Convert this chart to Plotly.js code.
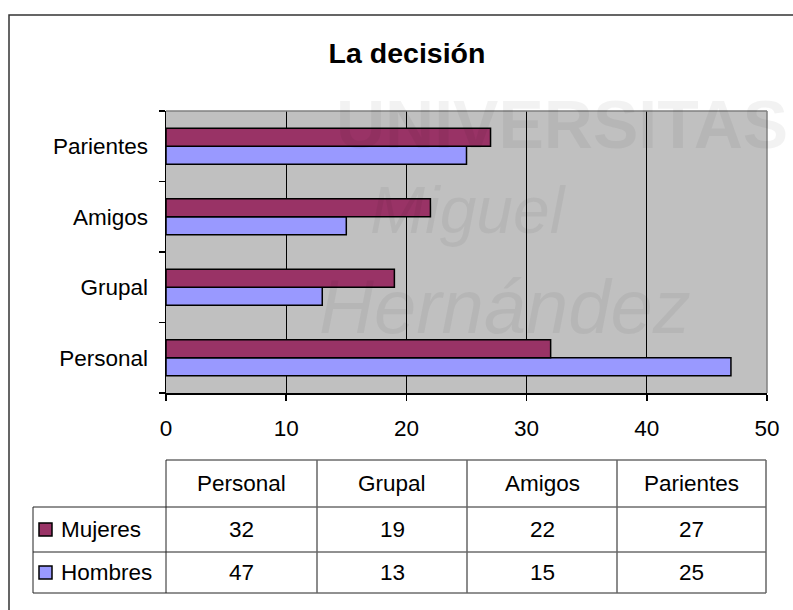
<!DOCTYPE html>
<html>
<head>
<meta charset="utf-8">
<script src="https://cdn.plot.ly/plotly-3.0.1.min.js"></script>
<style>html,body{margin:0;padding:0;background:#fff;}#chart{width:793px;height:610px;}</style>
</head>
<body>
<div id="chart"></div>
<script>
// ---- Data ----
const categories = ["Personal", "Grupal", "Amigos", "Parientes"];
const mujeres = [32, 19, 22, 27];
const hombres = [47, 13, 15, 25];
const seriesNames = ["Mujeres", "Hombres"];
const xTicks = [0, 10, 20, 30, 40, 50];
const title = "La decisión";

// ---- Styles / geometry ----
const W = 793, H = 610;
const PL = 166, PR = 767, PT = 111, PB = 393;
const colMujeres = "#993366", colHombres = "#9999FF";
const FONT = "Liberation Sans, Arial, sans-serif";
const fx = px => (px - PL) / (PR - PL);
const fy = py => (PB - py) / (PB - PT);

const traces = [
  { type: "bar", orientation: "h", name: seriesNames[1], y: categories, x: hombres,
    marker: { color: colHombres, line: { color: "#000", width: 1.5 } }, hoverinfo: "x+y" },
  { type: "bar", orientation: "h", name: seriesNames[0], y: categories, x: mujeres,
    marker: { color: colMujeres, line: { color: "#000", width: 1.5 } }, hoverinfo: "x+y" }
];

const shapes = [];
const annotations = [];

// outer frame
shapes.push({ type: "rect", xref: "paper", yref: "paper", x0: fx(9), x1: fx(805), y0: fy(15), y1: fy(625),
  line: { color: "#333", width: 1.5 }, fillcolor: "rgba(0,0,0,0)", layer: "below" });
// plot area top/right border
shapes.push({ type: "line", xref: "paper", yref: "paper", x0: 0, x1: 1, y0: 1, y1: 1, line: { color: "#808080", width: 1.5 } });
shapes.push({ type: "line", xref: "paper", yref: "paper", x0: 1, x1: 1, y0: 0, y1: 1, line: { color: "#808080", width: 1.5 } });

// watermark (faint)
const wm = [
  { t: "UNIVERSITAS", x: 562, y: 124, s: 68, b: true, i: false },
  { t: "Miguel", x: 468, y: 210, s: 66, b: false, i: true },
  { t: "Hernández", x: 505, y: 306, s: 76, b: false, i: true }
];
wm.forEach(w => annotations.push({ xref: "paper", yref: "paper", x: fx(w.x), y: fy(w.y), xanchor: "center", yanchor: "middle",
  text: w.b ? "<b>" + w.t + "</b>" : (w.i ? "<i>" + w.t + "</i>" : w.t), showarrow: false,
  font: { family: FONT, size: w.s, color: "rgba(0,0,0,0.05)" } }));

// ---- data table ----
const colEdges = [166, 317, 467, 617, 766];
const rowEdges = [460, 507, 552, 593];
const tableLeft = 33;
const lineCol = "#222";
shapes.push({ type: "line", xref: "paper", yref: "paper", x0: fx(colEdges[0]), x1: fx(colEdges[4]), y0: fy(rowEdges[0]), y1: fy(rowEdges[0]), line: { color: lineCol, width: 1 } });
for (let r = 1; r < rowEdges.length; r++) {
  shapes.push({ type: "line", xref: "paper", yref: "paper", x0: fx(tableLeft), x1: fx(colEdges[4]), y0: fy(rowEdges[r]), y1: fy(rowEdges[r]), line: { color: lineCol, width: 1 } });
}
shapes.push({ type: "line", xref: "paper", yref: "paper", x0: fx(tableLeft), x1: fx(tableLeft), y0: fy(rowEdges[1]), y1: fy(rowEdges[3]), line: { color: lineCol, width: 1 } });
colEdges.forEach((c, i) => shapes.push({ type: "line", xref: "paper", yref: "paper", x0: fx(c), x1: fx(c), y0: fy(rowEdges[0]), y1: fy(rowEdges[3]),
  line: { color: i === 0 ? lineCol : "#666", width: i === 0 ? 1 : 1.5 } }));

const tFont = { family: FONT, size: 22.5, color: "#000" };
categories.forEach((c, i) => {
  const cx = (colEdges[i] + colEdges[i + 1]) / 2;
  annotations.push({ xref: "paper", yref: "paper", x: fx(cx), y: fy((rowEdges[0] + rowEdges[1]) / 2), text: c, showarrow: false, xanchor: "center", yanchor: "middle", font: tFont });
  annotations.push({ xref: "paper", yref: "paper", x: fx(cx), y: fy((rowEdges[1] + rowEdges[2]) / 2), text: String(mujeres[i]), showarrow: false, xanchor: "center", yanchor: "middle", font: tFont });
  annotations.push({ xref: "paper", yref: "paper", x: fx(cx), y: fy((rowEdges[2] + rowEdges[3]) / 2), text: String(hombres[i]), showarrow: false, xanchor: "center", yanchor: "middle", font: tFont });
});
[[seriesNames[0], colMujeres, 1], [seriesNames[1], colHombres, 2]].forEach(([name, col, r]) => {
  const cy = (rowEdges[r] + rowEdges[r + 1]) / 2;
  shapes.push({ type: "rect", xref: "paper", yref: "paper", x0: fx(39), x1: fx(52), y0: fy(cy - 6.5), y1: fy(cy + 6.5),
    fillcolor: col, line: { color: "#000", width: 1.5 } });
  annotations.push({ xref: "paper", yref: "paper", x: fx(59), y: fy(cy), text: name, showarrow: false, xanchor: "left", yanchor: "middle", font: tFont });
});

const layout = {
  width: W, height: H,
  margin: { l: PL, r: W - PR, t: PT, b: H - PB, pad: 0 },
  paper_bgcolor: "#fff",
  plot_bgcolor: "#C0C0C0",
  showlegend: false,
  barmode: "group",
  bargap: 0.49,
  bargroupgap: 0,
  title: { text: "<b>" + title + "</b>", x: 407 / W, xanchor: "center", y: 1 - 53 / H, yanchor: "middle", yref: "container",
    font: { family: FONT, size: 28.5, color: "#000" } },
  xaxis: {
    range: [0, 50], tickvals: xTicks, ticktext: xTicks.map(String),
    showgrid: true, gridcolor: "#000", gridwidth: 1,
    showline: true, linecolor: "#000", linewidth: 1.5,
    ticks: "outside", ticklen: 6, tickcolor: "#000", tickwidth: 1.5,
    ticklabelstandoff: 8,
    zeroline: false,
    tickfont: { family: FONT, size: 22.5, color: "#000" }
  },
  yaxis: {
    type: "category", categoryorder: "array", categoryarray: categories,
    showgrid: false, showline: true, linecolor: "#000", linewidth: 1.5,
    ticks: "outside", ticklen: 6, tickcolor: "#000", tickwidth: 1.5, tickson: "boundaries",
    ticklabelstandoff: 12,
    tickfont: { family: FONT, size: 22.5, color: "#000" }
  },
  shapes: shapes,
  annotations: annotations
};

Plotly.newPlot("chart", traces, layout, { displayModeBar: false, staticPlot: true });
</script>
</body>
</html>
